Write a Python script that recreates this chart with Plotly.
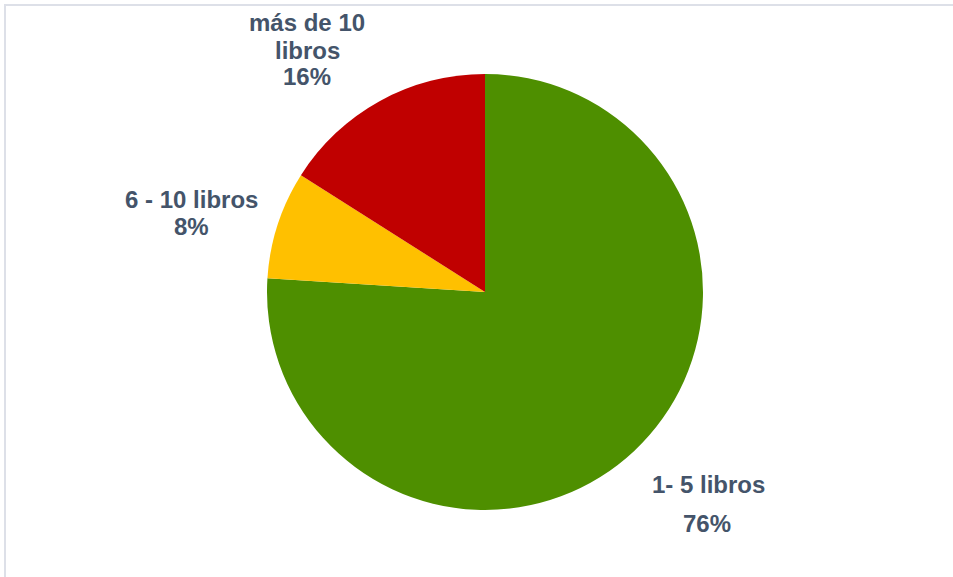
import plotly.graph_objects as go

categories = ["1- 5 libros", "6 - 10 libros", "más de 10 libros"]
values = [76, 8, 16]
colors = ["#4E8F00", "#FFC000", "#C00000"]

# label lines (category text split as in the original chart) and pixel anchors
label_lines = [
    ["1- 5 libros", "76%"],
    ["6 - 10 libros", "8%"],
    ["más de 10", "libros", "16%"],
]
label_pos = [
    [(708, 484), (707, 523)],
    [(191, 199), (191, 226)],
    [(307, 23), (307, 50), (307, 77)],
]

W, H = 953, 577
cx, cy, r = 485, 292, 218

fig = go.Figure(
    go.Pie(
        labels=categories,
        values=values,
        marker=dict(colors=colors, line=dict(width=0)),
        sort=False,
        direction="clockwise",
        rotation=0,
        textinfo="none",
        hoverinfo="label+percent",
        showlegend=False,
        domain=dict(x=[(cx - r) / W, (cx + r) / W], y=[(H - cy - r) / H, (H - cy + r) / H]),
    )
)

annotations = []
for lines, poss in zip(label_lines, label_pos):
    for t, (px, py) in zip(lines, poss):
        annotations.append(
            dict(
                text=t,
                x=px / W,
                y=1 - py / H,
                xref="paper",
                yref="paper",
                xanchor="center",
                yanchor="middle",
                showarrow=False,
                font=dict(family="Liberation Sans, Arial, sans-serif", size=24, color="#44546A", weight="bold"),
            )
        )

fig.update_layout(
    width=W,
    height=H,
    margin=dict(l=0, r=0, t=0, b=0),
    paper_bgcolor="white",
    plot_bgcolor="white",
    annotations=annotations,
    shapes=[
        dict(
            type="rect",
            xref="paper",
            yref="paper",
            x0=5 / W,
            x1=1.05,
            y0=-0.05,
            y1=1 - 5 / H,
            line=dict(color="#DDE0E8", width=2),
            fillcolor="rgba(0,0,0,0)",
            layer="below",
        )
    ],
)

fig.write_html(
    "out.html",
    config={"displayModeBar": False},
    post_script="document.body.style.margin='0';document.body.style.overflow='hidden';",
)
